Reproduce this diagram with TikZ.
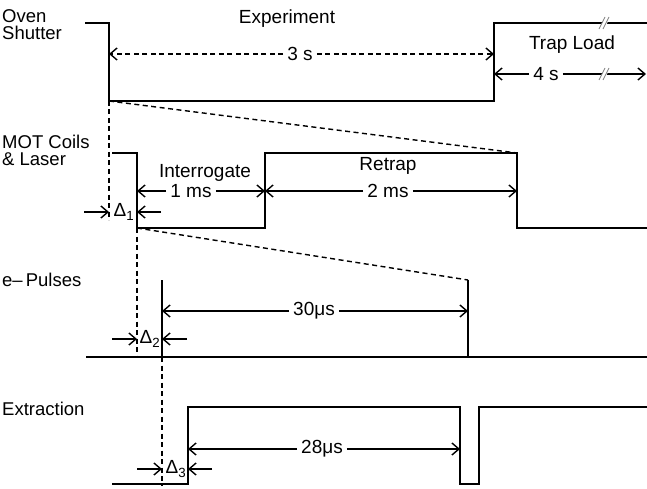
\documentclass[tikz,border=0pt]{standalone}
\usepackage{fontspec}
\setmainfont{Liberation Sans}
\usetikzlibrary{arrows.meta}
\begin{document}
\begin{tikzpicture}[x=1pt,y=-1pt,
  wave/.style={line width=2pt, line join=miter},
  tipb/.tip={Straight Barb[length=7pt,width=12pt,line width=1.4pt]},
  dimline/.style={line width=1.4pt},
  dashline/.style={line width=1.4pt, dash pattern=on 5pt off 3.5pt},
  lbl/.style={font=\fontsize{18.5}{17}\selectfont, anchor=base west, inner sep=0pt, align=left},
  txt/.style={font=\fontsize{19}{21}\selectfont, anchor=base, inner sep=0pt},
  dtxt/.style={font=\fontsize{19}{21}\selectfont, inner sep=4pt},
  brk/.style={gray, line width=0.8pt}]
\useasboundingbox (0,0) rectangle (647,489);

% ---------- labels ----------
\node[lbl] (l1) at (2,40) {Oven\\Shutter};
\node[lbl] (l3) at (2,165) {MOT Coils\\\& Laser};
\node[lbl] (l5) at (2,286) {e–\,Pulses};
\node[lbl] (l6) at (2,415) {Extraction};

% ---------- Oven shutter ----------
\coordinate (o0) at (85,23);
\coordinate (o1) at (109,23);
\coordinate (o2) at (109,101);
\coordinate (o3) at (494,101);
\coordinate (o4) at (494,23);
\coordinate (o5) at (647,23);
\draw[wave] (o0) -- (o1) -- (o2) -- (o3) -- (o4) -- (o5);

\node[txt] (exp) at (287,24) {Experiment};
\coordinate (e3a) at (109,54);
\coordinate (e3b) at (494,54);
\node[dtxt] (t3) at (300,54) {3 s};
\draw[dashline,-{tipb}] (t3) -- (e3a);
\draw[dashline,-{tipb}] (t3) -- (e3b);

\node[txt] (tl) at (572,50) {Trap Load};
\coordinate (e4a) at (494,74);
\coordinate (e4b) at (646,74);
\node[dtxt] (t4) at (546,74) {4 s};
\draw[dimline,-{tipb}] (t4) -- (e4a);
\draw[dimline,-{tipb}] (t4) -- (e4b);
% break marks
\fill[white] (599,30) -- (604,30) -- (610,17) -- (605,17) -- cycle;
\draw[brk] (599,29) -- (605,17) (603,29) -- (609,17);
\fill[white] (599,80) -- (604,80) -- (610,68) -- (605,68) -- cycle;
\draw[brk] (599,80) -- (605,68) (603,80) -- (609,68);

% ---------- MOT coils ----------
\coordinate (m0) at (112,153);
\coordinate (m1) at (137,153);
\coordinate (m2) at (137,228);
\coordinate (m3) at (265,228);
\coordinate (m4) at (265,153);
\coordinate (m5) at (517,153);
\coordinate (m6) at (517,228);
\coordinate (m7) at (647,228);
\draw[wave] (m0) -- (m1) -- (m2) -- (m3) -- (m4) -- (m5) -- (m6) -- (m7);

\draw[dashline] (o2) -- (m5);
\coordinate (d1b) at (109,220);
\draw[dashline] (o2) -- (d1b);

\node[txt] (intr) at (205,178) {Interrogate};
\coordinate (i1) at (137,191);
\coordinate (i2) at (265,191);
\node[dtxt] (t1ms) at (191,191) {1 ms};
\draw[dimline,-{tipb}] (t1ms) -- (i1);
\draw[dimline,-{tipb}] (t1ms) -- (i2);

\node[txt] (retr) at (388,171) {Retrap};
\coordinate (r2) at (517,191);
\node[dtxt] (t2ms) at (388,191) {2 ms};
\draw[dimline,-{tipb}] (t2ms) -- (i2);
\draw[dimline,-{tipb}] (t2ms) -- (r2);

% Delta 1
\node[dtxt, inner sep=1pt] (dl1) at (124,212) {Δ\textsubscript{1}};
\coordinate (a1s) at (84,212);
\coordinate (a1e) at (109,212);
\coordinate (b1s) at (161,212);
\coordinate (b1e) at (137,212);
\draw[dimline,-{tipb}] (a1s) -- (a1e);
\draw[dimline,-{tipb}] (b1s) -- (b1e);

% ---------- e- pulses ----------
\coordinate (p0) at (86,357);
\coordinate (p1) at (647,357);
\coordinate (pa) at (162,280);
\coordinate (pab) at (162,357);
\coordinate (pb) at (468,280);
\coordinate (pbb) at (468,357);
\draw[wave] (p0) -- (p1);
\draw[wave] (pa) -- (pab);
\draw[wave] (pb) -- (pbb);

\draw[dashline] (m2) -- (pb);
\coordinate (d2b) at (137,357);
\draw[dashline] (m2) -- (d2b);

\coordinate (q1) at (162,311);
\coordinate (q2) at (468,311);
\node[dtxt] (t30) at (314,311) {30μs};
\draw[dimline,-{tipb}] (t30) -- (q1);
\draw[dimline,-{tipb}] (t30) -- (q2);

\node[dtxt, inner sep=1pt] (dl2) at (150,339) {Δ\textsubscript{2}};
\coordinate (a2s) at (112,339);
\coordinate (a2e) at (137,339);
\coordinate (b2s) at (187,339);
\coordinate (b2e) at (162,339);
\draw[dimline,-{tipb}] (a2s) -- (a2e);
\draw[dimline,-{tipb}] (b2s) -- (b2e);

% ---------- Extraction ----------
\coordinate (x0) at (112,484);
\coordinate (x1) at (188,484);
\coordinate (x2) at (188,407);
\coordinate (x3) at (460,407);
\coordinate (x4) at (460,484);
\coordinate (x5) at (479,484);
\coordinate (x6) at (479,407);
\coordinate (x7) at (647,407);
\draw[wave] (x0) -- (x1) -- (x2) -- (x3) -- (x4) -- (x5) -- (x6) -- (x7);

\coordinate (d3b) at (162,486);
\draw[dashline] (pab) -- (d3b);

\coordinate (y1) at (188,449);
\coordinate (y2) at (460,449);
\node[dtxt] (t28) at (322,449) {28μs};
\draw[dimline,-{tipb}] (t28) -- (y1);
\draw[dimline,-{tipb}] (t28) -- (y2);

\node[dtxt, inner sep=1pt] (dl3) at (176,469) {Δ\textsubscript{3}};
\coordinate (a3s) at (137,469);
\coordinate (a3e) at (162,469);
\coordinate (b3s) at (212,469);
\coordinate (b3e) at (188,469);
\draw[dimline,-{tipb}] (a3s) -- (a3e);
\draw[dimline,-{tipb}] (b3s) -- (b3e);
\end{tikzpicture}
\end{document}
